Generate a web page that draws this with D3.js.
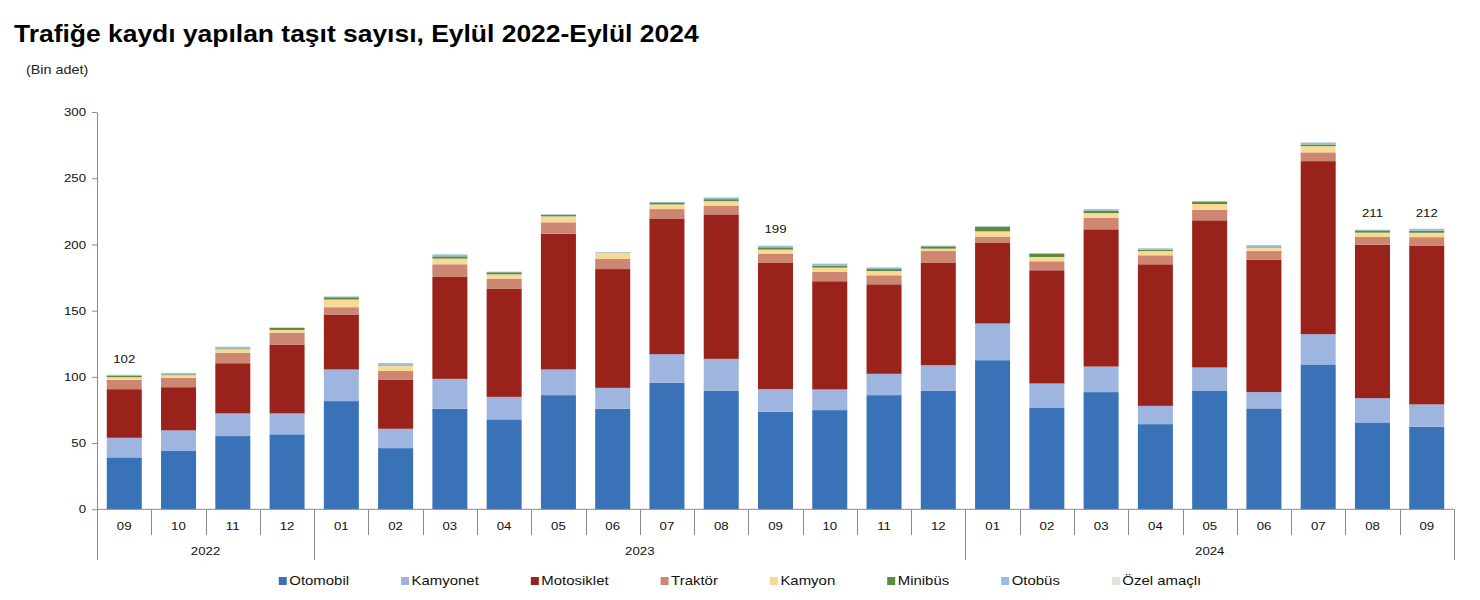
<!DOCTYPE html>
<html>
<head>
<meta charset="utf-8">
<script src="https://cdn.jsdelivr.net/npm/d3@7"></script>
<style>
  html, body { margin: 0; padding: 0; background: #fff; }
  svg { display: block; font-family: "Liberation Sans", Arial, sans-serif; }
</style>
</head>
<body>
<svg id="chart" width="1480" height="600"></svg>
<script>
// ---------------- DATA ----------------
const titleText = "Trafiğe kaydı yapılan taşıt sayısı, Eylül 2022-Eylül 2024";
const unitText = "(Bin adet)";
const months = ["09","10","11","12","01","02","03","04","05","06","07","08","09","10","11","12","01","02","03","04","05","06","07","08","09"];
const yearLabels = ["2022", "2023", "2024"];
const yearSpans = [4, 12, 9];
const seriesNames = ["Otomobil", "Kamyonet", "Motosiklet", "Traktör", "Kamyon", "Minibüs", "Otobüs", "Özel amaçlı"];
const seriesColors = ["#3A72B8", "#9EB5DF", "#99231B", "#CD8671", "#F8DA96", "#5B8C3A", "#9CBBE2", "#DDE6D4"];

const otomobil   = [39.2, 44.0, 55.3, 56.6, 81.7, 46.2, 75.9, 67.9, 86.2, 75.9, 95.5, 89.4, 73.6, 74.9, 86.2, 89.4, 112.6, 76.9, 88.5, 64.3, 89.7, 76.2, 109.4, 65.6, 62.3];
const kamyonet   = [14.8, 15.6, 17.1, 15.8, 23.9, 14.6, 22.6, 17.0, 19.4, 15.8, 21.6, 24.2, 17.1, 15.6, 16.1, 19.4, 27.7, 18.1, 19.3, 13.8, 17.4, 12.3, 22.8, 18.3, 16.9];
const motosiklet = [36.7, 32.6, 37.9, 51.7, 41.5, 36.9, 76.9, 81.5, 102.5, 89.7, 102.1, 109.1, 95.3, 81.7, 67.6, 77.2, 60.8, 85.5, 103.6, 106.9, 111.1, 100.0, 130.7, 115.9, 120.0];
const traktor    = [7.0, 7.1, 7.8, 9.3, 5.5, 6.8, 9.6, 7.8, 8.6, 7.6, 7.5, 6.6, 7.1, 7.0, 6.8, 9.0, 4.5, 6.8, 8.8, 6.8, 8.0, 6.5, 6.6, 5.8, 6.3];
const kamyon     = [2.1, 2.0, 2.8, 2.0, 5.8, 3.8, 4.3, 3.2, 4.5, 4.5, 3.5, 3.4, 3.0, 3.3, 3.2, 1.8, 4.3, 3.2, 3.5, 3.2, 4.3, 2.6, 4.7, 3.3, 3.3];
const minibus    = [1.2, 0.6, 0.6, 1.5, 1.7, 0.4, 1.7, 1.6, 1.2, 0.3, 1.5, 1.5, 1.7, 1.5, 1.5, 1.8, 3.5, 2.6, 1.8, 1.0, 1.8, 0.4, 1.3, 1.7, 1.5];
const otobus     = [0.5, 1.0, 1.2, 0.4, 0.6, 1.7, 1.5, 0.4, 0.4, 0.4, 0.4, 1.3, 1.2, 1.5, 1.3, 0.4, 0.4, 0.3, 1.2, 1.1, 0.5, 1.5, 1.5, 0.5, 1.5];
const ozelAmacli = [0.2, 0.1, 0.1, 0.1, 0.1, 0.1, 0.1, 0.1, 0.1, 0.1, 0.1, 0.1, 0.2, 0.1, 0.1, 0.1, 0.1, 0.1, 0.1, 0.1, 0.1, 0.1, 0.1, 0.2, 0.2];

// total labels shown on selected bars (index -> text)
const labelIndex = [0, 12, 23, 24];
const labelText  = ["102", "199", "211", "212"];

const yTicks = [0, 50, 100, 150, 200, 250, 300];

// ---------------- LAYOUT ----------------
(function () {
const S = 1.15; // horizontal text stretch
const svg = d3.select("#chart");
const mLeft = 97, mRight = 1454, mTop = 112, mBottom = 509.3;
const axisColor = "#8a8a8a";

const seriesData = [otomobil, kamyonet, motosiklet, traktor, kamyon, minibus, otobus, ozelAmacli];
const rows = months.map((m, i) => {
  const r = { idx: i };
  seriesNames.forEach((n, k) => r[n] = seriesData[k][i]);
  return r;
});

const x = d3.scaleBand().domain(d3.range(months.length)).range([mLeft, mRight]).paddingInner(0.355).paddingOuter(0.18);
const y = d3.scaleLinear().domain([0, 300]).range([mBottom, mTop]);
const color = d3.scaleOrdinal().domain(seriesNames).range(seriesColors);

function sText(parent, px, py, txt, opts) {
  return parent.append("text")
    .attr("transform", `translate(${px},${py}) scale(${S},1)`)
    .attr("text-anchor", opts.anchor || "start")
    .attr("font-size", opts.size)
    .attr("font-weight", opts.weight || "normal")
    .attr("fill", opts.fill || "#111")
    .text(txt);
}

// Title and unit
sText(svg, 14, 42, titleText, { size: 23, weight: "bold", fill: "#000" });
sText(svg, 26, 74, unitText, { size: 12.5, fill: "#222" });

// Stacked bars
const stack = d3.stack().keys(seriesNames)(rows);
svg.append("g").selectAll("g").data(stack).join("g")
  .attr("fill", d => color(d.key))
  .selectAll("rect").data(d => d).join("rect")
  .attr("x", d => x(d.data.idx))
  .attr("width", x.bandwidth())
  .attr("y", d => y(d[1]))
  .attr("height", d => Math.max(0, y(d[0]) - y(d[1])));

// Y axis
const yAxisG = svg.append("g").attr("transform", `translate(${mLeft},0)`)
  .call(d3.axisLeft(y).tickValues(yTicks).tickSize(5).tickSizeOuter(0).tickPadding(6));
yAxisG.select(".domain").attr("stroke", axisColor);
yAxisG.selectAll(".tick line").attr("stroke", axisColor);
yAxisG.selectAll(".tick text")
  .attr("font-family", "Liberation Sans, Arial, sans-serif")
  .attr("font-size", 11.5).attr("fill", "#111")
  .attr("x", -11 / S)
  .attr("transform", `scale(${S},1)`);

// X axis line
const xg = svg.append("g");
xg.append("line").attr("x1", mLeft).attr("x2", mRight).attr("y1", mBottom).attr("y2", mBottom)
  .attr("stroke", axisColor);

const yearBounds = [0];
yearSpans.forEach((s, i) => yearBounds.push(yearBounds[i] + s));
const stepW = (mRight - mLeft) / months.length;
d3.range(months.length + 1).forEach(i => {
  const bx = Math.round(mLeft + i * stepW) + 0.5;
  const isYear = yearBounds.includes(i);
  xg.append("line").attr("x1", bx).attr("x2", bx)
    .attr("y1", mBottom).attr("y2", isYear ? 560 : 535)
    .attr("stroke", axisColor);
});

months.forEach((m, i) => {
  const cx = mLeft + (i + 0.5) * stepW;
  sText(xg, cx, 530, m, { size: 11.5, anchor: "middle" });
});
yearLabels.forEach((yl, k) => {
  const a = yearBounds[k], b = yearBounds[k + 1];
  const cx = mLeft + ((a + b) / 2) * stepW;
  sText(xg, cx, 555, yl, { size: 11.5, anchor: "middle" });
});

// total labels
labelIndex.forEach((idx, k) => {
  const total = d3.sum(seriesData, s => s[idx]);
  sText(svg, x(idx) + x.bandwidth() / 2, y(total) - 12, labelText[k], { size: 11.5, anchor: "middle" });
});

// Legend
const legend = svg.append("g");
let cursor = 0;
seriesNames.forEach((n) => {
  const g = legend.append("g");
  g.append("rect").attr("x", cursor).attr("y", 577).attr("width", 8).attr("height", 8).attr("fill", color(n));
  const t = sText(g, cursor + 10.5, 585, n, { size: 13 });
  const w = t.node().getComputedTextLength() * S;
  cursor += 10.5 + w + 52;
});
const totalW = cursor - 52;
legend.attr("transform", `translate(${740 - totalW / 2},0)`);
})();
</script>
</body>
</html>
